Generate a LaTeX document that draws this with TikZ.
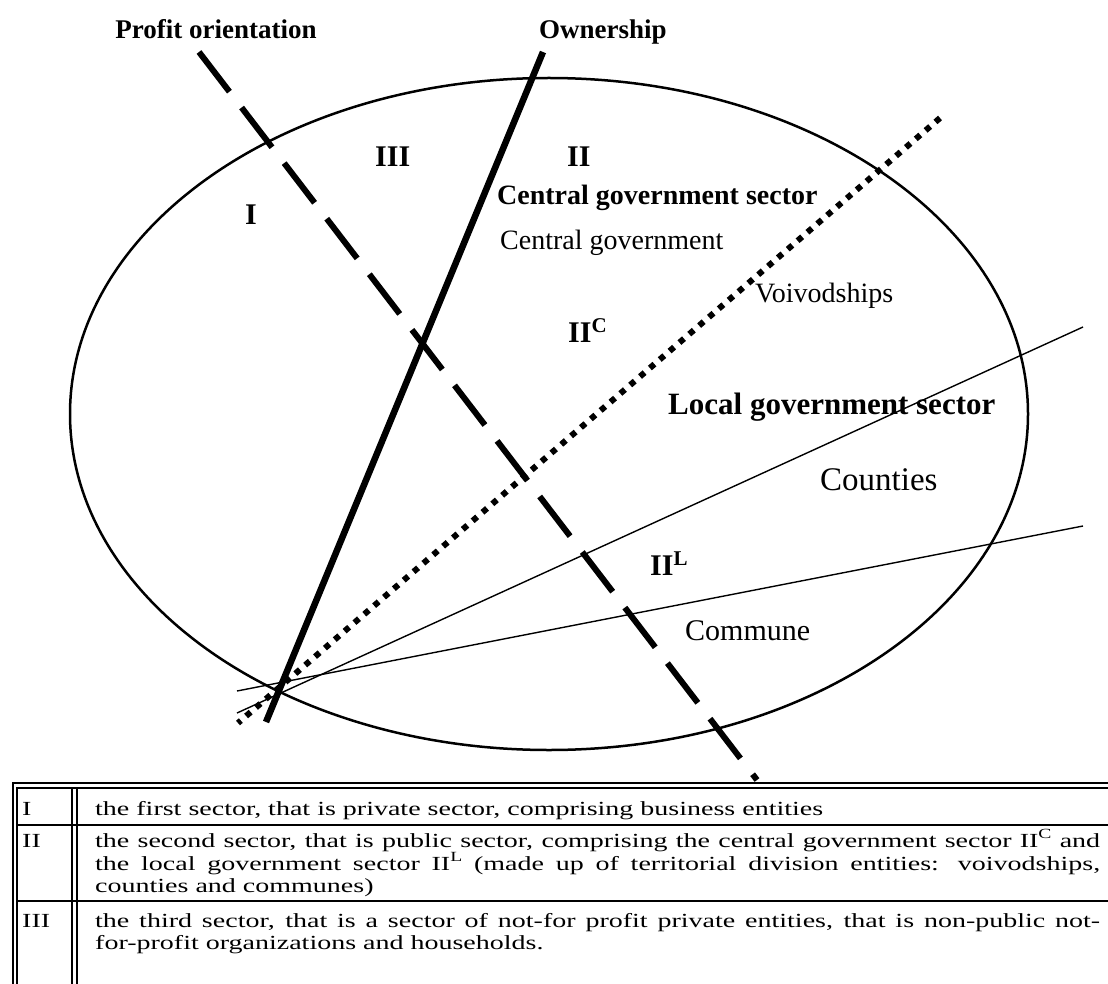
\documentclass[tikz,border=0pt]{standalone}
\usepackage{fontspec}
\setmainfont{Liberation Serif}
\newfontfamily\tabfont[FakeStretch=1.4]{Liberation Serif}
\newcommand\tabsup[1]{\raisebox{0.42em}{\fontsize{14}{14}\selectfont #1}}

\begin{document}
\begin{tikzpicture}[x=1pt,y=-1pt,
  lbl/.style={inner sep=0pt, anchor=base west, font=\fontsize{28}{30}\selectfont},
  blbl/.style={inner sep=0pt, anchor=base west, font=\fontsize{28}{30}\selectfont\bfseries},
  numlbl/.style={inner sep=0pt, anchor=base west, font=\fontsize{30}{30}\selectfont\bfseries},
  headlbl/.style={inner sep=0pt, anchor=base west, font=\fontsize{27}{28}\selectfont\bfseries},
  rowtxt/.style={inner sep=0pt, anchor=base west, font=\tabfont\fontsize{20}{22}\selectfont},
  tline/.style={line width=1.4pt},
  thinline/.style={line width=1.4pt},
  profitline/.style={line width=6pt, dash pattern=on 50pt off 20pt},
  ownline/.style={line width=6.5pt},
  dotline/.style={line width=6pt, dash pattern=on 6pt off 7pt},
]
\useasboundingbox (0,0) rectangle (1108,984);
\fill[white] (0,0) rectangle (1108,984);

% the field of entities
\coordinate (ctr) at (549,414);
\draw[line width=2.5pt] (ctr) ellipse [x radius=479pt, y radius=336pt];

% criteria and sector labels
\node[headlbl, anchor=base] (profit) at (216,39) {Profit orientation};
\node[headlbl] (owner) at (539,39) {Ownership};
\node[numlbl] (sI) at (245,225) {I};
\node[numlbl] (sIII) at (375,167) {III};
\node[numlbl] (sII) at (567,167) {II};
\node[blbl] (cgs) at (497,205) {Central government sector};
\node[lbl] (cg) at (500,250) {Central government};
\node[lbl] (voi) at (755,302) {Voivodships};
\node[numlbl] (IIC) at (568,342) {II\textsuperscript{C}};
\node[blbl, font=\fontsize{31}{31}\selectfont\bfseries] (lgs) at (668,414) {Local government sector};
\node[lbl, font=\fontsize{33}{33}\selectfont] (cty) at (820,490) {Counties};
\node[numlbl] (IIL) at (650,575) {II\textsuperscript{L}};
\node[lbl, font=\fontsize{30}{30}\selectfont] (com) at (685,640) {Commune};

% dividing lines
\coordinate (pTop) at (199,52);
\coordinate (pBot) at (757,780);
\coordinate (oTop) at (543,52);
\coordinate (oBot) at (266,722);
\coordinate (dTop) at (940,118);
\coordinate (dBot) at (238,723);
\coordinate (aL) at (237,713);
\coordinate (aR) at (1083,327);
\coordinate (bL) at (237,691);
\coordinate (bR) at (1083,526);

\draw[thinline] (aL) -- (aR);
\draw[thinline] (bL) -- (bR);
\draw[dotline] (dTop) -- (dBot);
\draw[profitline] (pTop) -- (pBot);
\draw[ownline] (oTop) -- (oBot);

% legend table
\draw[tline] (13,984) -- (13,783) -- (1108,783);
\draw[tline] (17,984) -- (17,788) -- (1108,788);
\draw[tline] (72,788) -- (72,984);
\draw[tline] (77,788) -- (77,984);
\draw[tline] (17,825) -- (1108,825);
\draw[tline] (17,901) -- (1108,901);

\node[rowtxt] (r1n) at (22,815) {I};
\node[rowtxt] (r1t) at (95,815) {the first sector, that is private sector, comprising business entities};
\node[rowtxt] (r2n) at (22,847) {II};
\node[rowtxt] (r2a) at (95,847) {\makebox[1005pt][s]{the second sector, that is public sector, comprising the central government sector II\tabsup{C} and}};
\node[rowtxt] (r2b) at (95,870) {\makebox[1005pt][s]{the local government sector II\tabsup{L} (made up of territorial division entities: voivodships,}};
\node[rowtxt] (r2c) at (95,892) {counties and communes)};
\node[rowtxt] (r3n) at (22,927) {III};
\node[rowtxt] (r3a) at (95,927) {\makebox[1005pt][s]{the third sector, that is a sector of not-for profit private entities, that is non-public not-}};
\node[rowtxt] (r3b) at (95,949) {for-profit organizations and households.};
\end{tikzpicture}
\end{document}
